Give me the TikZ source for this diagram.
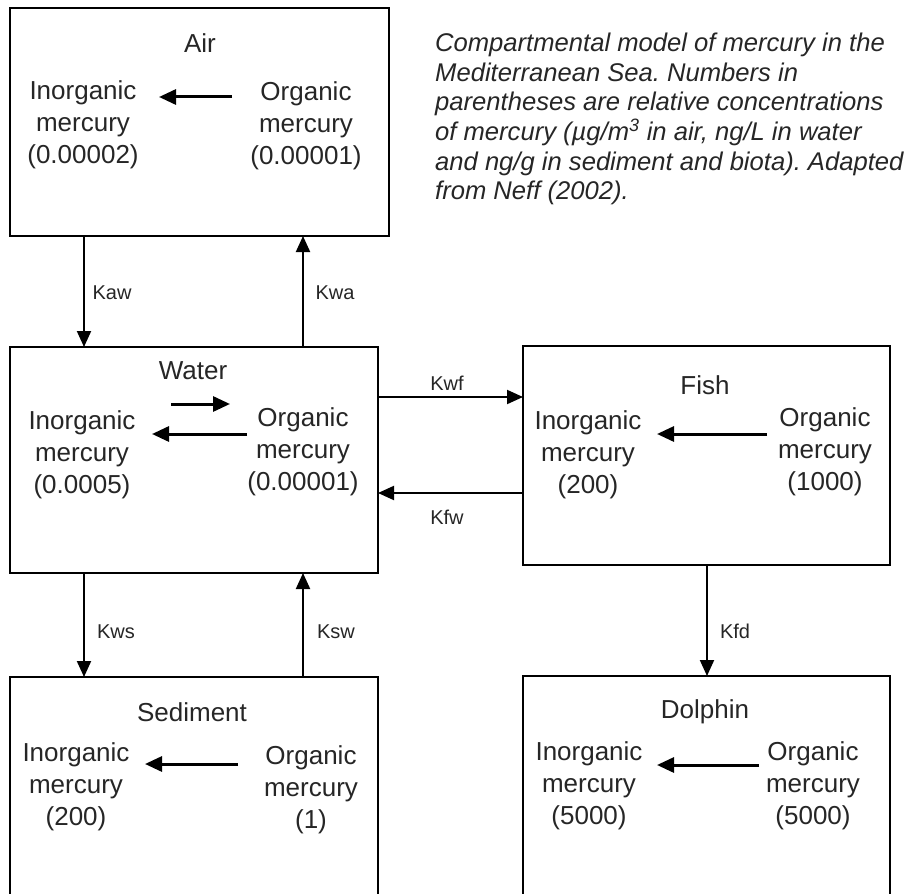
\documentclass[tikz,border=0pt]{standalone}
\usepackage{fontspec}
\setmainfont{Liberation Sans}
\usetikzlibrary{arrows.meta}
\frenchspacing
\begin{document}
\begin{tikzpicture}[x=1pt,y=-1pt,
  box/.style={draw, line width=2.6pt, inner sep=0pt, outer sep=0pt},
  conn/.style={line width=2pt, -{Triangle[length=16pt,width=14pt]}},
  inarr/.style={line width=3pt, -{Triangle[length=17pt,width=15pt]}},
  ttl/.style={text=black!85, font=\fontsize{26}{32}\selectfont},
  spec/.style={text=black!85, align=center, inner sep=0pt, font=\fontsize{26}{32}\selectfont},
  klab/.style={text=black!85, inner sep=0pt, font=\fontsize{20}{24}\selectfont},
  capt/.style={text=black!85, align=left, inner sep=0pt, anchor=north west, font=\fontsize{25.6}{29.6}\selectfont\itshape\frenchspacing}]
\clip (0,0) rectangle (909,893);
\fill[white] (0,0) rectangle (909,893);
% boxes
\node[box, minimum width=379pt, minimum height=228pt] (air) at (199.5,122) {};
\node[box, minimum width=368pt, minimum height=226pt] (water) at (194,460) {};
\node[box, minimum width=367pt, minimum height=219pt] (fish) at (706.5,455.5) {};
\node[box, minimum width=368pt, minimum height=240pt] (sed) at (194,797) {};
\node[box, minimum width=367pt, minimum height=240pt] (dol) at (706.5,796) {};
% titles
\node[ttl] (airT) at (200,43) {Air};
\node[ttl] (waterT) at (193,371) {Water};
\node[ttl] (fishT) at (705,385) {Fish};
\node[ttl] (sedT) at (192,712) {Sediment};
\node[ttl] (dolT) at (705,712) {Dolphin};
% species
\node[spec] (airI) at (83,125) {Inorganic\\mercury\\(0.00002)};
\node[spec] (airO) at (306,126) {Organic\\mercury\\(0.00001)};
\node[spec] (watI) at (82,455) {Inorganic\\mercury\\(0.0005)};
\node[spec] (watO) at (303,452) {Organic\\mercury\\(0.00001)};
\node[spec] (fisI) at (588,455) {Inorganic\\mercury\\(200)};
\node[spec] (fisO) at (825,452) {Organic\\mercury\\(1000)};
\node[spec] (sedI) at (76,787) {Inorganic\\mercury\\(200)};
\node[spec] (sedO) at (311,790) {Organic\\mercury\\(1)};
\node[spec] (dolI) at (589,786) {Inorganic\\mercury\\(5000)};
\node[spec] (dolO) at (813,786) {Organic\\mercury\\(5000)};
% inner arrow ends
\coordinate (a1) at (232,97);  \coordinate (a2) at (159,97);
\coordinate (w1) at (171,404); \coordinate (w2) at (230,404);
\coordinate (w3) at (247,434); \coordinate (w4) at (152,434);
\coordinate (f1) at (767,434); \coordinate (f2) at (657,434);
\coordinate (s1) at (238,764); \coordinate (s2) at (145,764);
\coordinate (d1) at (759,765); \coordinate (d2) at (657,765);
\draw[inarr] (a1) -- (a2);
\draw[inarr] (w1) -- (w2);
\draw[inarr] (w3) -- (w4);
\draw[inarr] (f1) -- (f2);
\draw[inarr] (s1) -- (s2);
\draw[inarr] (d1) -- (d2);
% connector guides
\coordinate (xL) at (84,0);
\coordinate (xR) at (303,0);
\coordinate (xF) at (707,0);
\coordinate (yT) at (0,397);
\coordinate (yB) at (0,493);
\draw[conn] (air.south -| xL) -- (water.north -| xL);
\draw[conn] (water.north -| xR) -- (air.south -| xR);
\draw[conn] (water.east |- yT) -- (fish.west |- yT);
\draw[conn] (fish.west |- yB) -- (water.east |- yB);
\draw[conn] (water.south -| xL) -- (sed.north -| xL);
\draw[conn] (sed.north -| xR) -- (water.south -| xR);
\draw[conn] (fish.south -| xF) -- (dol.north -| xF);
% labels
\node[klab] (lkaw) at (112,293) {Kaw};
\node[klab] (lkwa) at (335,293) {Kwa};
\node[klab] (lkwf) at (447,383) {Kwf};
\node[klab] (lkfw) at (447,517) {Kfw};
\node[klab] (lkws) at (116,632) {Kws};
\node[klab] (lksw) at (336,632) {Ksw};
\node[klab] (lkfd) at (735,631) {Kfd};
% caption
\node[capt] (cap) at (435,33) {Compartmental model of mercury in the\\Mediterranean Sea. Numbers in\\parentheses are relative concentrations\\of mercury (µg/m\textsuperscript{3} in air, ng/L in water\\and ng/g in sediment and biota). Adapted\\from Neff (2002).};
\end{tikzpicture}
\end{document}
